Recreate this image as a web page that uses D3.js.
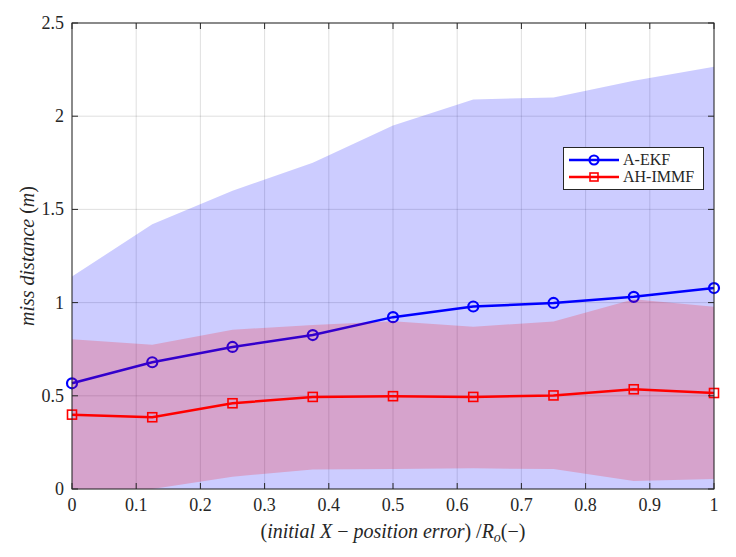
<!DOCTYPE html>
<html>
<head>
<meta charset="utf-8">
<script src="https://cdn.jsdelivr.net/npm/d3@7"></script>
<style>
  body { margin: 0; background: #fff; }
  svg { display: block; }
  text { font-family: "Liberation Serif", "DejaVu Serif", serif; fill: #262626; }
</style>
</head>
<body>
<svg></svg>
<script>
// x positions (initial position error / Ro)
var xs = [0, 0.125, 0.25, 0.375, 0.5, 0.625, 0.75, 0.875, 1];

// A-EKF mean and band
var ekfMean  = [0.567, 0.680, 0.762, 0.826, 0.922, 0.979, 0.998, 1.031, 1.078];
var ekfUpper = [1.14, 1.42, 1.60, 1.75, 1.95, 2.09, 2.10, 2.19, 2.265];
var ekfLower = [-0.30, -0.20, -0.10, -0.10, -0.10, -0.12, -0.10, -0.12, -0.10];

// AH-IMMF mean and band
var immMean  = [0.399, 0.385, 0.460, 0.494, 0.498, 0.494, 0.502, 0.535, 0.515];
var immUpper = [0.803, 0.774, 0.855, 0.880, 0.900, 0.871, 0.898, 1.018, 0.978];
var immLower = [-0.05, 0.0, 0.066, 0.105, 0.107, 0.111, 0.107, 0.043, 0.054];

var xTicks = [0, 0.1, 0.2, 0.3, 0.4, 0.5, 0.6, 0.7, 0.8, 0.9, 1];
var yTicks = [0, 0.5, 1, 1.5, 2, 2.5];

var w = 736, h = 557;
var pLeft = 72, pRight = 714, pTop = 23, pBottom = 489;

var svg = d3.select("svg").attr("width", w).attr("height", h);

var x = d3.scaleLinear().domain([0, 1]).range([pLeft, pRight]);
var y = d3.scaleLinear().domain([0, 2.5]).range([pBottom, pTop]);

svg.append("clipPath").attr("id", "plot")
  .append("rect")
  .attr("x", pLeft).attr("y", pTop)
  .attr("width", pRight - pLeft).attr("height", pBottom - pTop);

// grid
var grid = svg.append("g").attr("stroke", "#262626").attr("stroke-opacity", 0.15);
grid.selectAll(".gx").data(xTicks).enter().append("line")
  .attr("x1", d => x(d)).attr("x2", d => x(d))
  .attr("y1", pTop).attr("y2", pBottom);
grid.selectAll(".gy").data(yTicks).enter().append("line")
  .attr("x1", pLeft).attr("x2", pRight)
  .attr("y1", d => y(d)).attr("y2", d => y(d));

function band(lo, hi) {
  return d3.area()
    .x((d, i) => x(xs[i]))
    .y0((d, i) => y(lo[i]))
    .y1((d, i) => y(hi[i]))(xs);
}
var line = function (vals) {
  return d3.line().x((d, i) => x(xs[i])).y((d, i) => y(vals[i]))(xs);
};

// A-EKF band + line
svg.append("g").attr("clip-path", "url(#plot)")
  .append("path").attr("d", band(ekfLower, ekfUpper))
  .attr("fill", "#0000ff").attr("fill-opacity", 0.2);
svg.append("path").attr("d", line(ekfMean))
  .attr("fill", "none").attr("stroke", "#0000ff").attr("stroke-width", 2.5);
svg.selectAll(".mc").data(ekfMean).enter().append("circle")
  .attr("cx", (d, i) => x(xs[i])).attr("cy", d => y(d)).attr("r", 5)
  .attr("fill", "none").attr("stroke", "#0000ff").attr("stroke-width", 2.2);

// AH-IMMF band + line (band drawn over the A-EKF line, as in the original)
svg.append("g").attr("clip-path", "url(#plot)")
  .append("path").attr("d", band(immLower, immUpper))
  .attr("fill", "#ff0000").attr("fill-opacity", 0.2);
svg.append("path").attr("d", line(immMean))
  .attr("fill", "none").attr("stroke", "#ff0000").attr("stroke-width", 2.5);
svg.selectAll(".ms").data(immMean).enter().append("rect")
  .attr("x", (d, i) => x(xs[i]) - 4.5).attr("y", d => y(d) - 4.5)
  .attr("width", 9).attr("height", 9)
  .attr("fill", "none").attr("stroke", "#ff0000").attr("stroke-width", 1.6);

// axes box and ticks
var ax = svg.append("g").attr("stroke", "#262626").attr("stroke-width", 1);
ax.append("rect").attr("x", pLeft).attr("y", pTop)
  .attr("width", pRight - pLeft).attr("height", pBottom - pTop).attr("fill", "none");
xTicks.forEach(function (t) {
  ax.append("line").attr("x1", x(t)).attr("x2", x(t)).attr("y1", pBottom).attr("y2", pBottom - 6);
  ax.append("line").attr("x1", x(t)).attr("x2", x(t)).attr("y1", pTop).attr("y2", pTop + 6);
});
yTicks.forEach(function (t) {
  ax.append("line").attr("x1", pLeft).attr("x2", pLeft + 6).attr("y1", y(t)).attr("y2", y(t));
  ax.append("line").attr("x1", pRight).attr("x2", pRight - 6).attr("y1", y(t)).attr("y2", y(t));
});

svg.selectAll(".xl").data(xTicks).enter().append("text")
  .attr("x", d => x(d)).attr("y", pBottom + 22)
  .attr("text-anchor", "middle").attr("font-size", 18)
  .text(d => d3.format("")(d));
svg.selectAll(".yl").data(yTicks).enter().append("text")
  .attr("x", pLeft - 8).attr("y", d => y(d) + 6)
  .attr("text-anchor", "end").attr("font-size", 18)
  .text(d => d3.format("")(d));

// axis labels
var xl = svg.append("text").attr("x", (pLeft + pRight) / 2).attr("y", 538)
  .attr("text-anchor", "middle").attr("font-size", 20);
xl.append("tspan").text("(");
xl.append("tspan").attr("font-style", "italic").text("initial X");
xl.append("tspan").text(" \u2212 ");
xl.append("tspan").attr("font-style", "italic").text("position error");
xl.append("tspan").text(") /");
xl.append("tspan").attr("font-style", "italic").text("R");
xl.append("tspan").attr("font-style", "italic").attr("font-size", 14).attr("dy", 4).text("o");
xl.append("tspan").attr("dy", -4).text("(\u2212)");

var yl = svg.append("text")
  .attr("transform", "translate(34," + ((pTop + pBottom) / 2) + ") rotate(-90)")
  .attr("text-anchor", "middle").attr("font-size", 20);
yl.append("tspan").attr("font-style", "italic").text("miss distance ");
yl.append("tspan").text("(");
yl.append("tspan").attr("font-style", "italic").text("m");
yl.append("tspan").text(")");

// legend
var lg = svg.append("g");
lg.append("rect").attr("x", 563.5).attr("y", 147.5).attr("width", 140).attr("height", 42)
  .attr("fill", "#fff").attr("stroke", "#262626").attr("stroke-width", 1);
var items = [
  { name: "A-EKF", color: "#0000ff", shape: "circle" },
  { name: "AH-IMMF", color: "#ff0000", shape: "square" }
];
items.forEach(function (it, i) {
  var yy = 160 + i * 17;
  lg.append("line").attr("x1", 569).attr("x2", 619).attr("y1", yy).attr("y2", yy)
    .attr("stroke", it.color).attr("stroke-width", 2.5);
  if (it.shape === "circle") {
    lg.append("circle").attr("cx", 594).attr("cy", yy).attr("r", 4.5)
      .attr("fill", "none").attr("stroke", it.color).attr("stroke-width", 2.2);
  } else {
    lg.append("rect").attr("x", 590).attr("y", yy - 4).attr("width", 8).attr("height", 8)
      .attr("fill", "none").attr("stroke", it.color).attr("stroke-width", 1.6);
  }
  lg.append("text").attr("x", 623).attr("y", yy + 5).attr("font-size", 16).text(it.name);
});
</script>
</body>
</html>
